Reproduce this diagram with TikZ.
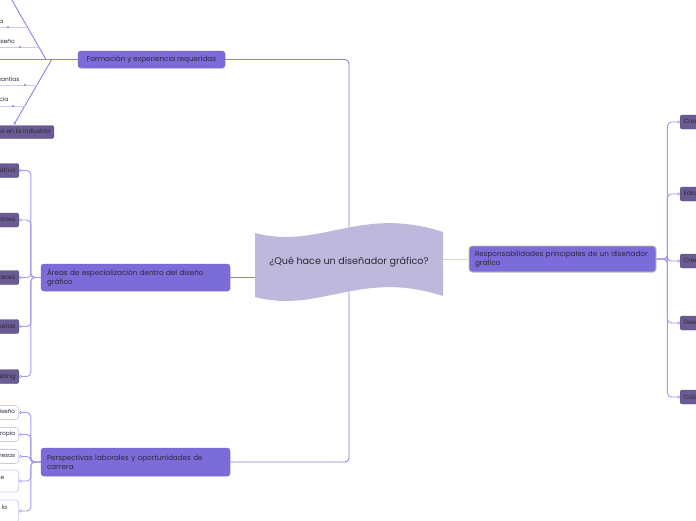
\documentclass[tikz,border=0pt]{standalone}
\usepackage{fontspec}
\setmainfont{Poppins}
\usetikzlibrary{arrows.meta, positioning, backgrounds, shadows}
\definecolor{mPurple}{HTML}{7B6CD9}
\definecolor{mDark}{HTML}{6A5B92}
\definecolor{mWave}{HTML}{BEB8DC}
\definecolor{mLine}{HTML}{8E80E4}
\definecolor{mPale}{HTML}{CFC8F2}
\definecolor{mSage}{HTML}{D3DCC2}
\definecolor{mSageDark}{HTML}{C2D3A2}
\definecolor{mInk}{HTML}{2B2838}

\begin{document}
\begin{tikzpicture}[x=1pt, y=-1pt, >=Stealth,
    mainbox/.style={fill=mPurple, draw=mPurple!88!black, line width=0.4pt, rounded corners=3pt,
      text=mInk, font=\fontsize{7.2}{8.8}\selectfont, inner xsep=6pt, inner ysep=3pt, align=left,
      drop shadow={opacity=0.22, shadow xshift=0.5pt, shadow yshift=-0.8pt}},
    subbox/.style={fill=mDark, draw=mDark!85!black, line width=0.4pt, rounded corners=2pt,
      text=mInk, font=\fontsize{6.2}{7}\selectfont, inner xsep=3.5pt, minimum height=14pt},
    outbox/.style={fill=white, draw=mPale, line width=0.7pt, rounded corners=3pt,
      text=mInk, font=\fontsize{5.8}{7.6}\selectfont, inner xsep=3.5pt, minimum height=14pt, align=right},
    ribtxt/.style={inner sep=0pt, text=mInk, font=\fontsize{5.8}{7}\selectfont},
    link/.style={draw=mLine, line width=0.9pt, rounded corners=4pt},
    trunk/.style={link, draw=mLine!80},
    ribline/.style={draw=mPale, line width=0.8pt},
    tip/.style={-{Circle[open, length=3pt, width=3pt, line width=0.6pt]}},
    bead/.style={circle, fill=mLine, inner sep=0pt, minimum size=2.4pt}]
  \useasboundingbox (0,0) rectangle (696,520);
  \clip (0,0) rectangle (696,520);

  % central topic and main branches
  \node[text=mInk, font=\fontsize{9.6}{11}\selectfont] (root) at (349,262) {¿Qué hace un diseñador gráfico?};
  \node[mainbox, minimum width=147pt, minimum height=17pt] (form) at (151.5,59.5) {Formación y experiencia requeridas};
  \node[mainbox, text width=177pt, minimum height=27pt] (areas) at (135.5,277.5) {Áreas de especialización dentro del diseño\\gráfico};
  \node[mainbox, text width=177pt, minimum height=28pt] (persp) at (135.5,462) {Perspectivas laborales y oportunidades de\\carrera};
  \node[mainbox, draw=mSageDark, line width=0.8pt, text width=175pt, minimum height=26pt] (resp) at (562.5,259) {Responsabilidades principales de un diseñador\\gráfico};

  % responsabilidades
  \foreach \i/\y/\t in {1/122/Creación de conceptos visuales, 2/194/Edición de imágenes,
      3/261/Creación de logotipos, 4/323/Desarrollo de materiales gráficos, 5/397/Colaboración con clientes}
    \node[subbox, anchor=west] (r\i) at (680,\y) {\t};

  % areas
  \foreach \i/\y/\t in {1/170.5/Dirección creativa, 2/220/Diseño de publicaciones,
      3/277.5/Diseño de interfaces, 4/326.5/Diseño de etiquetas, 5/376.5/Diseño para marketing}
    \node[subbox, anchor=east] (a\i) at (19,\y) {\t};

  % perspectivas
  \foreach \i/\y/\t in {1/412.5/Trabajo en agencias de diseño, 2/434.5/Emprender con marca propia,
      3/456.5/Trabajo en empresas}
    \node[outbox, anchor=east] (p\i) at (19,\y) {\t};
  \node[outbox, anchor=east, minimum height=22pt] (p4) at (19,481) {Trabajo como diseñador independiente\hspace*{11pt}\\o freelance\hspace*{30pt}};
  \node[outbox, anchor=east, minimum height=22pt] (p5) at (19,511) {Oportunidades de crecimiento en la\hspace*{8pt}\\industria creativa\hspace*{40pt}};

  % formacion (espina)
  \node[subbox, anchor=east, minimum height=12pt] (exp) at (54,132) {Experiencia en la industria};
  \coordinate (ftop) at (46,59.5);
  \coordinate (fbot) at (51.7,59.5);
  \coordinate (fend) at (5,-12);
  \coordinate (etip) at (14,124.5);
  \coordinate (d1) at (27.3,27);
  \coordinate (d2) at (38.9,47);
  \coordinate (d3) at (36.8,85);
  \coordinate (d4) at (24.5,106);
  \node[ribtxt, anchor=base east] (f1) at (3.5,23) {Formación académica};
  \node[ribtxt, anchor=base east] (f2) at (15,43) {Dominio de software de diseño};
  \node[ribtxt, anchor=base east] (f3) at (19.5,81) {Prácticas o pasantías};
  \node[ribtxt, anchor=base east] (f4) at (8.5,101.5) {Constancia};

  \begin{pgfonlayer}{background}
    \draw[link] (root.center) |- (form.east);
    \draw[link] (root.center) |- (persp.east);
    \draw[link] (root.center |- areas.east) -- (areas.east);
    \draw[draw=mSage, line width=1pt] (root.center |- resp.west) -- (resp.west);
    \fill[mWave] (255,233) .. controls (320,250) and (360,205) .. (443,232)
      -- (443,296) .. controls (360,269) and (320,314) .. (255,297) -- cycle;

    \foreach \i in {1,...,5} {
      \draw[trunk, tip] (resp.east) -- ++(11,0) |- (r\i.west);
      \draw[trunk, tip] (areas.west) -- ++(-10,0) |- (a\i.east);
      \draw[trunk, tip] (persp.west) -- ++(-10,0) |- (p\i.east);
    }

    \draw[link] (form.west) -- (-5,59.5);
    \draw[link] (ftop) -- (fend);
    \draw[link, tip] (fbot) -- (etip);
    \foreach \i in {1,...,4} \draw[ribline] (d\i) -- (d\i -| f\i.west);
  \end{pgfonlayer}
  \foreach \x/\y in {8/27, 20/47, 25/85, 13/106} \node[bead] at (\x,\y) {};
\end{tikzpicture}
\end{document}
